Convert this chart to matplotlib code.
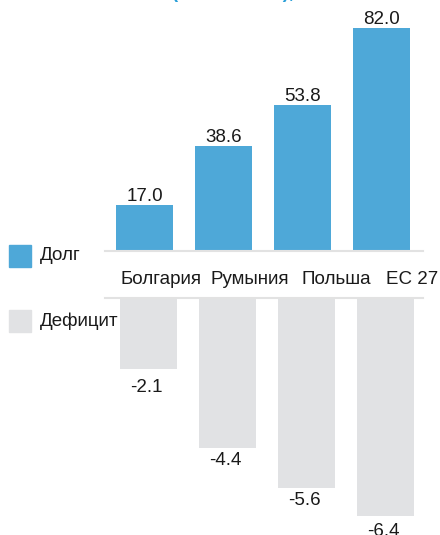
import numpy as np
import matplotlib
matplotlib.use("Agg")
import matplotlib.pyplot as plt
from matplotlib.patches import Rectangle

plt.rcParams['font.family'] = ['Liberation Sans', 'DejaVu Sans']

# данные
countries = ["Болгария", "Румыния", "Польша", "ЕС 27"]
debt = [17.0, 38.6, 53.8, 82.0]
deficit = [-2.1, -4.4, -5.6, -6.4]

BLUE = "#4ea8d8"
GREY = "#e1e2e4"
LINE = "#e2e2e2"
TXT = "#1a1a1a"
FS = 13.5

W, H = 440, 535
fig = plt.figure(figsize=(W / 100, H / 100), dpi=100)


def px_axes(x0, y0, x1, y1):
    # y0/y1 – пиксели сверху
    return fig.add_axes([x0 / W, 1 - y1 / H, (x1 - x0) / W, (y1 - y0) / H])


x = np.arange(len(countries))
bw = 0.72

# верхняя панель - долг
ax1 = px_axes(105, 20, 423, 251)
ax1.bar(x, debt, width=bw, color=BLUE)
ax1.set_xlim(-0.5, 3.525)
ax1.set_ylim(0, 231 / 2.72)
for xi, v in zip(x, debt):
    ax1.annotate(f"{v:.1f}", (xi, v), xytext=(0, 4), textcoords="offset pixels",
                 ha="center", va="baseline", fontsize=FS, color=TXT)
ax1.axhline(0, color=LINE, lw=1.5, clip_on=False)

# нижняя панель - дефицит
ax2 = px_axes(105, 298, 423, 530)
ax2.bar(x + 0.05, deficit, width=bw, color=GREY)
ax2.set_xlim(-0.5, 3.525)
ax2.set_ylim(-232 / 34.0, 0)
neg_off = [-23, -17, -17, -20]  # сдвиг подписей вниз, пикс.
for xi, v, off in zip(x, deficit, neg_off):
    ax2.annotate(f"{v:.1f}", (xi + 0.02, v), xytext=(0, off), textcoords="offset pixels",
                 ha="center", va="baseline", fontsize=FS, color=TXT)
ax2.axhline(0, color=LINE, lw=1.5, clip_on=False)

for ax in (ax1, ax2):
    ax.axis("off")

# подписи стран
label_px = [161, 250, 336, 412]
for lx, name in zip(label_px, countries):
    fig.text(lx / W, 1 - 280 / H, name, ha="center", va="center", fontsize=FS, color=TXT)

# легенда
for y_top, col, name in [(245, BLUE, "Долг"), (310, GREY, "Дефицит")]:
    fig.patches.append(Rectangle((9 / W, 1 - (y_top + 22) / H), 22 / W, 22 / H,
                                 transform=fig.transFigure, color=col))
    fig.text(40 / W, 1 - (y_top + 11) / H, name, ha="left", va="center",
             fontsize=FS, color=TXT)

# обрезанный заголовок сверху
fig.text(233 / W, 1 + 2.5 / H, "(в % от ВВП),", ha="center", va="baseline",
         fontsize=FS, color="#2a9fd8", fontweight="bold")

fig.savefig("out.png", dpi=100)
